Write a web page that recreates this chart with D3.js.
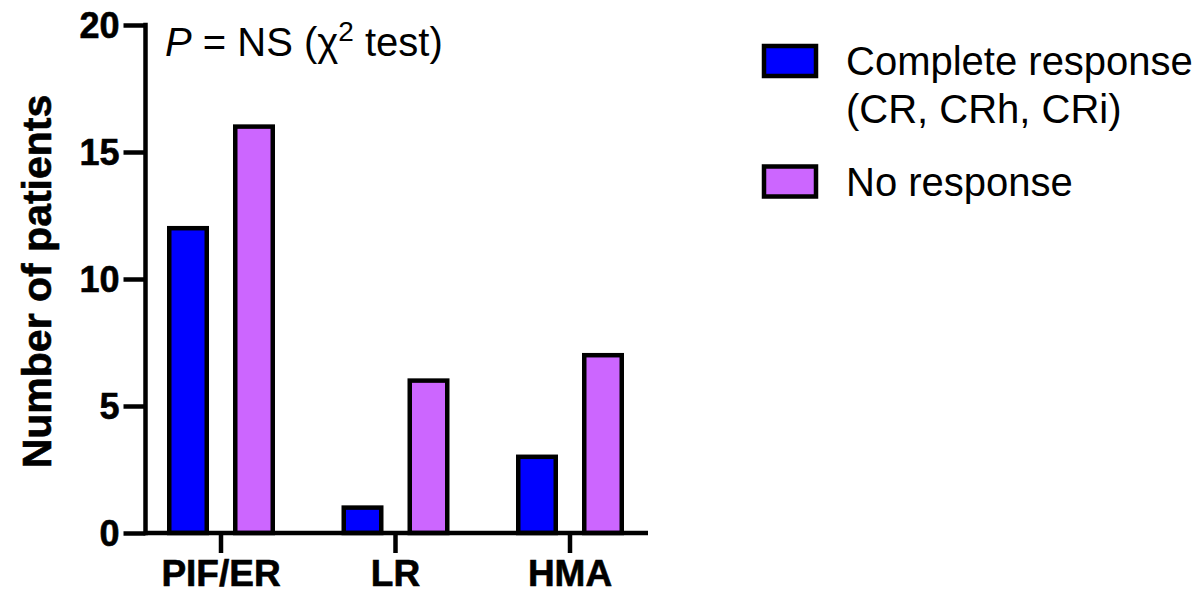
<!DOCTYPE html>
<html>
<head>
<meta charset="utf-8">
<script src="https://cdn.jsdelivr.net/npm/d3@7"></script>
<style>
  html, body { margin: 0; padding: 0; background: #fff; }
  svg { display: block; }
  text { font-family: "Liberation Sans", Arial, Helvetica, sans-serif; fill: #000; }
</style>
</head>
<body>
<svg id="chart" width="1203" height="599"></svg>
<script>
const categories = ["PIF/ER", "LR", "HMA"];
const seriesNames = ["Complete response (CR, CRh, CRi)", "No response"];
const legendLines = [["Complete response", "(CR, CRh, CRi)"], ["No response"]];
const completeResponse = [12, 1, 3];
const noResponse = [16, 6, 7];
const yTicks = [0, 5, 10, 15, 20];
const colors = ["#0000ff", "#cc66ff"];

const seriesValues = [completeResponse, noResponse];

const svg = d3.select("#chart");

const axisX = 145.5, baseY = 533, topY = 25, axisEnd = 648;
const y = d3.scaleLinear().domain([0, 20]).range([baseY, topY]);
const x0 = d3.scaleBand().domain(categories).range([133.75, 657.25]).padding(0);
const x1 = d3.scalePoint().domain(seriesNames).range([-33, 33]);
const barW = 37.5;
const sw = 4.5;

// bars
const data = [];
categories.forEach((c, i) => {
  seriesNames.forEach((s, j) => {
    data.push({ cat: c, series: s, value: seriesValues[j][i], color: colors[j] });
  });
});

svg.append("g").selectAll("rect")
  .data(data)
  .join("rect")
  .attr("x", d => x0(d.cat) + x0.bandwidth() / 2 + x1(d.series) - barW / 2)
  .attr("y", d => y(d.value))
  .attr("width", barW)
  .attr("height", d => baseY - y(d.value))
  .attr("fill", d => d.color)
  .attr("stroke", "#000")
  .attr("stroke-width", sw);

// y axis
const yAxis = d3.axisLeft(y).tickValues(yTicks).tickSize(22).tickPadding(4).tickSizeOuter(0);
const gy = svg.append("g").attr("transform", `translate(${axisX},0)`).call(yAxis);
gy.select(".domain").remove();
gy.selectAll(".tick line").attr("stroke", "#000").attr("stroke-width", sw);
gy.selectAll(".tick text")
  .attr("font-family", "Liberation Sans, Arial, sans-serif")
  .attr("font-weight", "bold").attr("font-size", 36).attr("fill", "#000")
  .attr("stroke", "#000").attr("stroke-width", 0.6)
  .attr("dy", "0.36em");
svg.append("line")
  .attr("x1", axisX).attr("x2", axisX)
  .attr("y1", topY - sw / 2).attr("y2", baseY + sw / 2)
  .attr("stroke", "#000").attr("stroke-width", sw);

// x axis
const xAxis = d3.axisBottom(x0).tickSize(20).tickPadding(7).tickSizeOuter(0);
const gx = svg.append("g").attr("transform", `translate(0,${baseY})`).call(xAxis);
gx.select(".domain").remove();
gx.selectAll(".tick line").attr("stroke", "#000").attr("stroke-width", sw);
gx.selectAll(".tick text")
  .attr("font-family", "Liberation Sans, Arial, sans-serif")
  .attr("font-weight", "bold").attr("font-size", 37).attr("fill", "#000")
  .attr("stroke", "#000").attr("stroke-width", 0.6)
  .attr("dy", "0.71em");
svg.append("line")
  .attr("x1", axisX).attr("x2", axisEnd)
  .attr("y1", baseY).attr("y2", baseY)
  .attr("stroke", "#000").attr("stroke-width", sw);

// y title
svg.append("text")
  .attr("transform", `translate(51,${(95 + 468) / 2}) rotate(-90)`)
  .attr("text-anchor", "middle")
  .attr("font-weight", "bold").attr("font-size", 41)
  .attr("stroke", "#000").attr("stroke-width", 0.6)
  .text("Number of patients");

// annotation
const ann = svg.append("text").attr("x", 165).attr("y", 56).attr("font-size", 40);
ann.append("tspan").attr("font-style", "italic").text("P");
ann.append("tspan").text(" = NS (\u03C7");
ann.append("tspan").attr("font-size", 28).attr("dy", -15).text("2");
ann.append("tspan").attr("dy", 15).text(" test)");

// legend
const leg = svg.append("g");
const legY = [61, 181.5];
legendLines.forEach((lines, j) => {
  leg.append("rect")
    .attr("x", 764).attr("y", legY[j] - 15)
    .attr("width", 52).attr("height", 30)
    .attr("fill", colors[j]).attr("stroke", "#000").attr("stroke-width", sw);
  lines.forEach((t, k) => {
    leg.append("text")
      .attr("x", 846).attr("y", legY[j] + 14 + k * 48)
      .attr("font-size", 40)
      .text(t);
  });
});
</script>
</body>
</html>
